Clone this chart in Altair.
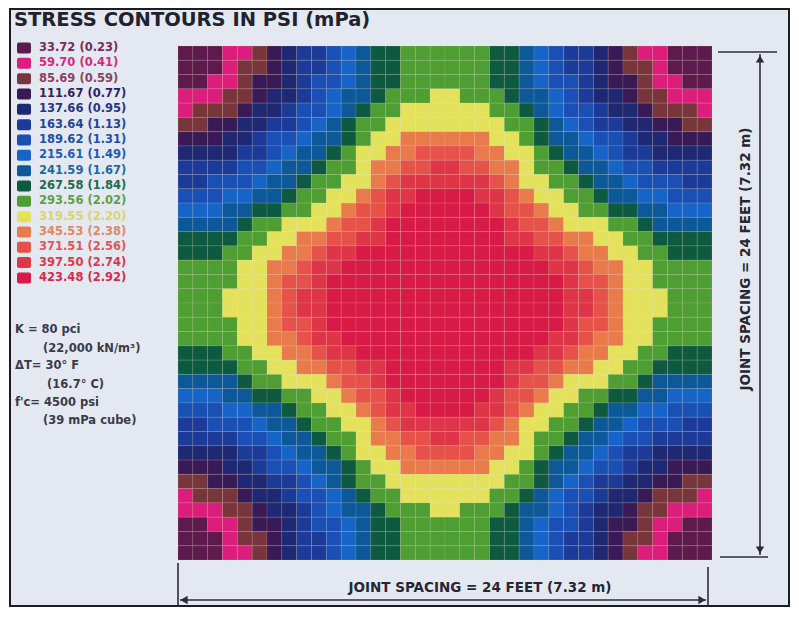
import altair as alt
import pandas as pd

# ---- data ----
# 36 x 36 cells over one slab panel; each character is a contour level (hex 0..F -> level 1..16)
STRESS_GRID = [
    "000112345567899AAAAAA998765543211000",
    "000122345567899AAAAAA998765543221000",
    "001123345667899AAAAAA998766543321100",
    "11122344567889AAABBAAA98876544322111",
    "1222344566789AABBBBBBAA9876654432221",
    "223344556789AABBBBBBBBAA987655443322",
    "333445667889ABBCCCCCCBBA988766544333",
    "44445567889ABBCCDDDDCCBBA98876554444",
    "5555667889AABCCDDEEDDCCBAA9887665555",
    "556667889AABBCDEEEEEEDCBBAA988766655",
    "66677889AABBCDEEFFFFEEDCBBAA98877666",
    "7778899AABBCDDEFFFFFFEDDCBBAA9988777",
    "88889AABBBCDDEFFFFFFFFEDDCBBBAA98888",
    "9999AABBCCDDEEFFFFFFFFEEDDCCBBAA9999",
    "999AABBCCDEEFFFFFFFFFFFFEEDCCBBAA999",
    "AAAABBCCDEEFFFFFFFFFFFFFFEEDCCBBAAAA",
    "AAAABBCDDEFFFFFFFFFFFFFFFFEDDCBBAAAA",
    "AAABBBCDEEFFFFFFFFFFFFFFFFEEDCBBBAAA",
    "AAABBBCDEEFFFFFFFFFFFFFFFFEEDCBBBAAA",
    "AAAABBCDDEFFFFFFFFFFFFFFFFEDDCBBAAAA",
    "AAAABBCCDEEFFFFFFFFFFFFFFEEDCCBBAAAA",
    "999AABBCCDEEFFFFFFFFFFFFEEDCCBBAA999",
    "9999AABBCCDDEEFFFFFFFFEEDDCCBBAA9999",
    "88889AABBBCDDEFFFFFFFFEDDCBBBAA98888",
    "7778899AABBCDDEFFFFFFEDDCBBAA9988777",
    "66677889AABBCDEEFFFFEEDCBBAA98877666",
    "556667889AABBCDEEEEEEDCBBAA988766655",
    "5555667889AABCCDDEEDDCCBAA9887665555",
    "44445567889ABBCCDDDDCCBBA98876554444",
    "333445667889ABBCCCCCCBBA988766544333",
    "223344556789AABBBBBBBBAA987655443322",
    "1222344566789AABBBBBBAA9876654432221",
    "11122344567889AAABBAAA98876544322111",
    "001123345667899AAAAAA998766543321100",
    "000122345567899AAAAAA998765543221000",
    "000112345567899AAAAAA998765543211000",
]

LEVEL_PSI = ["33.72", "59.70", "85.69", "111.67", "137.66", "163.64", "189.62", "215.61",
             "241.59", "267.58", "293.56", "319.55", "345.53", "371.51", "397.50", "423.48"]
LEVEL_MPA = ["0.23", "0.41", "0.59", "0.77", "0.95", "1.13", "1.31", "1.49",
             "1.67", "1.84", "2.02", "2.20", "2.38", "2.56", "2.74", "2.92"]
LEVEL_COLORS = ["#5e1a4c", "#dc1d7c", "#78363c", "#3a1a56", "#1f2872", "#1c3b98",
                "#1a4fb6", "#1664c8", "#0c5898", "#0e5a40", "#4e9e33", "#e4e25c",
                "#e97a4b", "#e6524a", "#df3548", "#d81b46"]
TEXT_COLORS = ["#7a2a55", "#d6287f", "#8a4262", "#34205e", "#283486", "#22449a",
               "#1a50a8", "#1c5cb8", "#1b6aa0", "#236a4c", "#5ca048", "#d8d470",
               "#e08860", "#de5656", "#d8384e", "#d42a50"]

NOTES = ["K = 80 pci", "(22,000 kN/m³)", "ΔT= 30° F", "(16.7° C)", "f'c= 4500 psi", "(39 mPa cube)"]
TITLE = "STRESS  CONTOURS IN PSI (mPa)"
DIM_LABEL = "JOINT SPACING = 24 FEET (7.32 m)"

# ---- tables built from the arrays ----
heat_rows = []
for r, line in enumerate(STRESS_GRID):
    for c, ch in enumerate(line):
        heat_rows.append({"c0": c, "c1": c + 1, "r0": r, "r1": r + 1, "level": int(ch, 16) + 1})
heat_df = pd.DataFrame(heat_rows)

legend_df = pd.DataFrame({
    "k": list(range(16)),
    "label": [f"{p} ({m})" for p, m in zip(LEVEL_PSI, LEVEL_MPA)],
    "color": LEVEL_COLORS,
    "tcolor": TEXT_COLORS,
})

one = pd.DataFrame({"a": [0]})
FONT = "DejaVu Sans"
INK = "#262634"

frame = alt.Chart(one).mark_rect(fill="#e4e9f1", stroke="#1c1c26", strokeWidth=2).encode(
    x=alt.value(-168), x2=alt.value(611), y=alt.value(-37), y2=alt.value(560))

heat = alt.Chart(heat_df).mark_rect(stroke="#efe2b0", strokeWidth=0.6, strokeOpacity=0.22).encode(
    x=alt.X("c0:Q", scale=alt.Scale(domain=[0, 36], nice=False, zero=False), axis=None),
    x2="c1:Q",
    y=alt.Y("r0:Q", scale=alt.Scale(domain=[0, 36], nice=False, zero=False, reverse=True), axis=None),
    y2="r1:Q",
    color=alt.Color("level:O", scale=alt.Scale(domain=list(range(1, 17)), range=LEVEL_COLORS), legend=None),
)

swatch = alt.Chart(legend_df).transform_calculate(
    y0="datum.k * 15.33 - 3.5", y1="datum.k * 15.33 + 7.5"
).mark_rect(cornerRadius=2).encode(
    x=alt.value(-161), x2=alt.value(-147),
    y=alt.Y("y0:Q", scale=None), y2=alt.Y2("y1:Q"),
    color=alt.Color("color:N", scale=None),
)

legend_text = alt.Chart(legend_df).transform_calculate(
    yc="datum.k * 15.33 + 2"
).mark_text(align="left", baseline="middle", font=FONT, fontSize=11.5, fontWeight="bold").encode(
    x=alt.value(-139), y=alt.Y("yc:Q", scale=None),
    text="label:N", color=alt.Color("tcolor:N", scale=None),
)


def label(text, x, y, size=12, align="left", angle=0, color=INK, baseline="middle"):
    return alt.Chart(one).mark_text(
        align=align, baseline=baseline, font=FONT, fontSize=size, fontWeight="bold",
        angle=angle, color=color,
    ).encode(x=alt.value(x), y=alt.value(y), text=alt.value(text))


def rule(x, x2, y, y2, w=1.6):
    return alt.Chart(one).mark_rule(color="#2c2c3a", strokeWidth=w).encode(
        x=alt.value(x), x2=alt.value(x2), y=alt.value(y), y2=alt.value(y2))


def arrow(shape, x, y):
    return alt.Chart(one).mark_point(shape=shape, filled=True, size=70, color="#2c2c3a", opacity=1).encode(
        x=alt.value(x), y=alt.value(y))


title = label(TITLE, -164, -20, size=19.5, baseline="alphabetic", color="#22222e")

note_x = [-163, -135, -163, -131, -163, -135]
note_y = [284, 303, 320, 339, 357, 375]
notes = [label(t, x, y, size=11.5, color="#3a3a4c") for t, x, y in zip(NOTES, note_x, note_y)]

dims = [
    # bottom dimension
    rule(0, 0, 517, 560), rule(530, 530, 521, 560), rule(2, 528, 554, 554),
    arrow("triangle-left", 6, 554), arrow("triangle-right", 524, 554),
    label(DIM_LABEL, 302, 542, size=13.5, align="center"),
    # right dimension
    rule(540, 599, 6, 6), rule(542, 590, 511, 511), rule(582, 582, 8, 509),
    arrow("triangle-up", 582, 13), arrow("triangle-down", 582, 504),
    label(DIM_LABEL, 568, 213, size=13.5, align="center", angle=270),
]

chart = alt.layer(
    frame, heat, swatch, legend_text, title, *notes, *dims
).properties(
    width=534, height=514,
    padding={"left": 170, "top": 38, "right": 79, "bottom": 48},
    autosize=alt.AutoSizeParams(type="none"),
).resolve_scale(
    x="independent", y="independent", color="independent"
).configure(background="white").configure_view(stroke=None)

chart.save("out.html", embed_options={"renderer": "svg", "actions": False})
